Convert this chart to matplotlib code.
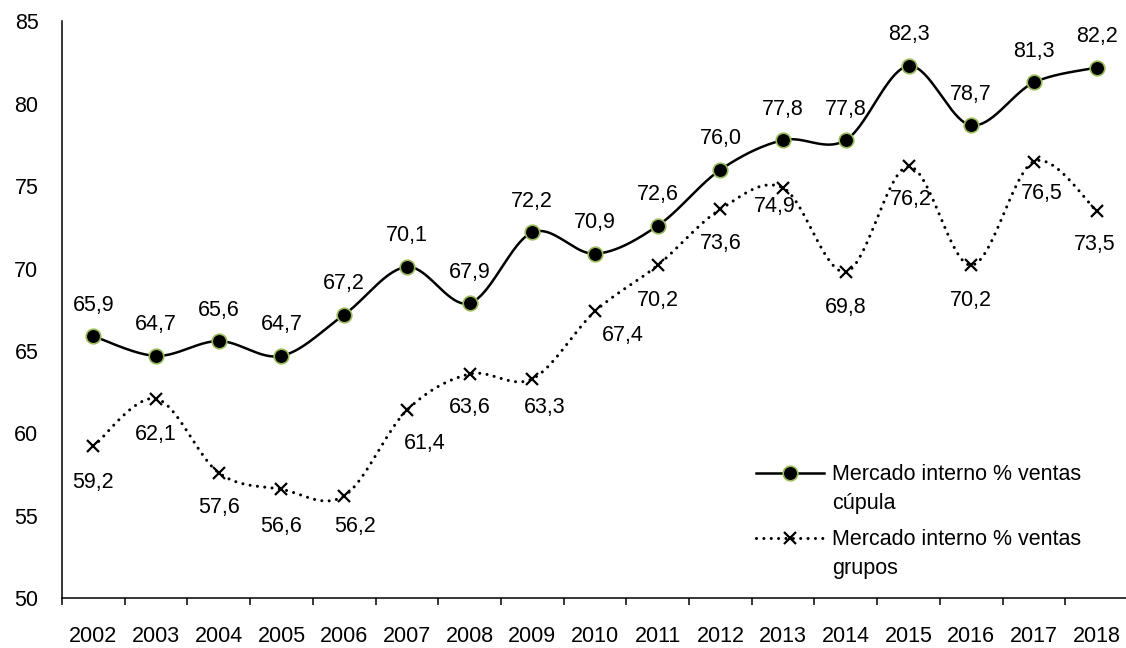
import numpy as np
import matplotlib.pyplot as plt
from matplotlib.lines import Line2D

plt.rcParams['font.family'] = ['Liberation Sans', 'DejaVu Sans']

# Series
years = ['2002', '2003', '2004', '2005', '2006', '2007', '2008', '2009', '2010',
         '2011', '2012', '2013', '2014', '2015', '2016', '2017', '2018']
cupula = [65.9, 64.7, 65.6, 64.7, 67.2, 70.1, 67.9, 72.2, 70.9,
          72.6, 76.0, 77.8, 77.8, 82.3, 78.7, 81.3, 82.2]
grupos = [59.2, 62.1, 57.6, 56.6, 56.2, 61.4, 63.6, 63.3, 67.4,
          70.2, 73.6, 74.9, 69.8, 76.2, 70.2, 76.5, 73.5]

# label nudges (pixels) for the lower series
grupos_off = [(0, -36), (0, -36), (0, -35), (0, -37), (11, -31), (18, -33), (0, -34),
              (12, -29), (28, -24), (0, -35), (0, -34), (-8, -19), (0, -36),
              (2, -33), (0, -35), (8, -32), (-2, -34)]

FS = 15.5


def smooth(y, n=40):
    # cubic bezier through the points, excel-style smoothing
    x = np.arange(len(y), dtype=float)
    y = np.asarray(y, dtype=float)
    px = np.concatenate([[x[0]], x, [x[-1]]])
    py = np.concatenate([[y[0]], y, [y[-1]]])
    xs, ys = [], []
    t = np.linspace(0, 1, n)
    for i in range(len(y) - 1):
        p0 = np.array([x[i], y[i]])
        p3 = np.array([x[i + 1], y[i + 1]])
        c1 = p0 + (np.array([px[i + 2], py[i + 2]]) - np.array([px[i], py[i]])) / 6
        c2 = p3 - (np.array([px[i + 3], py[i + 3]]) - np.array([px[i + 1], py[i + 1]])) / 6
        b = ((1 - t) ** 3)[:, None] * p0 + (3 * (1 - t) ** 2 * t)[:, None] * c1 \
            + (3 * (1 - t) * t ** 2)[:, None] * c2 + (t ** 3)[:, None] * p3
        xs.append(b[:, 0])
        ys.append(b[:, 1])
    return np.concatenate(xs), np.concatenate(ys)


fig = plt.figure(figsize=(11.26, 6.48), dpi=100)
ax = fig.add_axes([62 / 1126, 1 - 598 / 648, (1128 - 62) / 1126, (598 - 21.5) / 648])

x = np.arange(len(years))
dots = (0, (0.01, 2.4))

sx, sy = smooth(cupula)
ax.plot(sx, sy, color='black', lw=1.8, solid_capstyle='round', zorder=3)
ax.plot(x, cupula, linestyle='none', marker='o', ms=10.5, mfc='black',
        mec='#9BBB59', mew=1.2, zorder=4)

gx, gy = smooth(grupos)
ax.plot(gx, gy, color='black', lw=2.2, linestyle=dots,
        dash_capstyle='round', zorder=3)
ax.plot(x, grupos, linestyle='none', marker='x', ms=9, mec='black', mew=1.6, zorder=4)

for xi, v in zip(x, cupula):
    ax.annotate(f'{v:.1f}'.replace('.', ','), (xi, v), xytext=(0, 31),
                textcoords='offset pixels', ha='center', va='center', fontsize=FS)
for xi, v, (dx, dy) in zip(x, grupos, grupos_off):
    ax.annotate(f'{v:.1f}'.replace('.', ','), (xi, v), xytext=(dx, dy),
                textcoords='offset pixels', ha='center', va='center', fontsize=FS)

ax.set_xlim(-0.5, 16.5)
ax.set_ylim(50, 85)
ax.set_yticks(range(50, 86, 5))
ax.tick_params(axis='y', length=0, pad=17, labelsize=FS)

ax.set_xticks(np.arange(-0.5, 17, 1))
ax.set_xticklabels([])
ax.tick_params(axis='x', which='major', length=5, width=1.1, direction='out')
ax.set_xticks(x, minor=True)
ax.set_xticklabels(years, minor=True)
ax.tick_params(axis='x', which='minor', length=0, pad=20, labelsize=FS)

for s in ['top', 'right']:
    ax.spines[s].set_visible(False)
for s in ['left', 'bottom']:
    ax.spines[s].set_linewidth(1.1)

# legend: two blocks, each a handle row plus a wrapped second line
blank = Line2D([], [], linestyle='none')
h1 = Line2D([], [], color='black', lw=1.8, marker='o', ms=10.5, mfc='black',
            mec='#9BBB59', mew=1.2)
h2 = Line2D([], [], color='black', lw=2.2, linestyle=dots,
            dash_capstyle='round', marker='x', ms=9, mew=1.6)
leg_kw = dict(loc='upper left', frameon=False, fontsize=FS, handlelength=3.16,
              handletextpad=0.37, labelspacing=0.36, borderpad=0, borderaxespad=0)
leg1 = ax.legend([h1, blank], ['Mercado interno % ventas', 'cúpula'],
                 bbox_to_anchor=(0.651, 0.232), **leg_kw)
ax.add_artist(leg1)
ax.legend([h2, blank], ['Mercado interno % ventas', 'grupos'],
          bbox_to_anchor=(0.651, 0.232 - 65 / 576.5), **leg_kw)

plt.savefig('out.png', dpi=100)
